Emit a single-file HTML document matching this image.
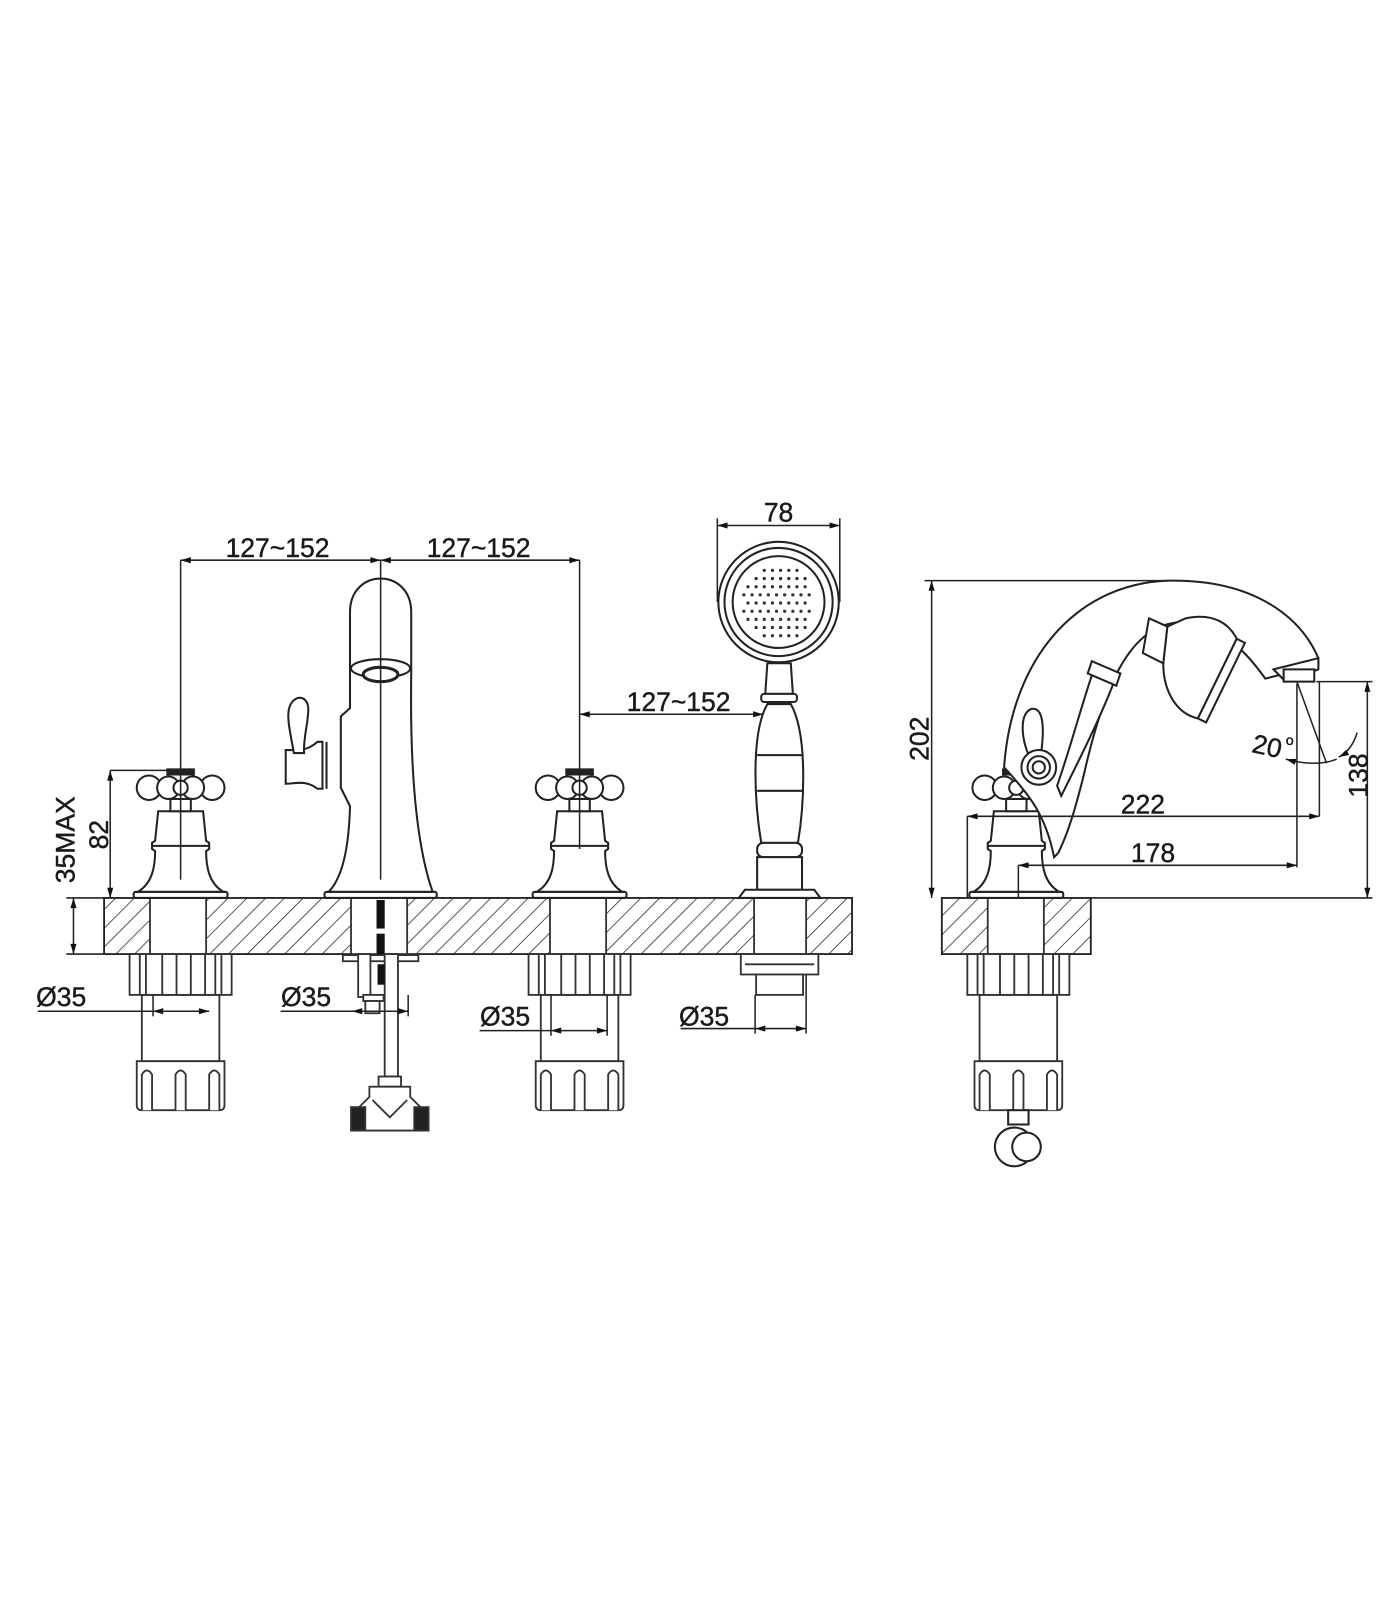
<!DOCTYPE html>
<html><head><meta charset="utf-8"><style>
html,body{margin:0;padding:0;background:#fff;}
svg{display:block}
text{font-family:"Liberation Sans Narrow","Liberation Sans",sans-serif;fill:#1a1a1a;font-size:26px;stroke:#1a1a1a;stroke-width:0.4}
</style></head><body>
<svg width="1400" height="1600" viewBox="0 0 1400 1600" xmlns="http://www.w3.org/2000/svg">
<defs>
<pattern id="h" width="13" height="13" patternUnits="userSpaceOnUse" patternTransform="rotate(45)">
<line x1="0" y1="0" x2="0" y2="13" stroke="#333" stroke-width="1.6"/>
</pattern>
<marker id="a" viewBox="0 0 10 6" refX="10" refY="3" markerWidth="16" markerHeight="6" markerUnits="userSpaceOnUse" orient="auto-start-reverse">
<path d="M0,0 L10,3 L0,6 Z" fill="#111"/>
</marker>
<g id="handle" fill="#fff" stroke="#222" stroke-width="2">
<rect x="-46" y="-6" width="92" height="6" rx="2"/>
<path d="M-42,-6 C-28,-14 -25,-30 -25,-46 L-28,-48 L-28,-54 L-25,-56 L-22,-85 L22,-85 L25,-56 L28,-54 L28,-48 L25,-46 C25,-30 28,-14 42,-6 Z"/>
<line x1="-28" y1="-51" x2="28" y2="-51"/>
<rect x="-10" y="-97" width="20" height="12"/>
<circle cx="-31" cy="-108" r="12"/>
<circle cx="31" cy="-108" r="12"/>
<circle cx="-12" cy="-108" r="11"/>
<circle cx="12" cy="-108" r="11"/>
<circle cx="0" cy="-108" r="7"/>
<rect x="-13" y="-126" width="26" height="5" fill="#222"/>
</g>
<g id="under" fill="#fff" stroke="#333" stroke-width="1.8">
<rect x="-38" y="40" width="76" height="65"/>
<rect x="-50" y="0" width="100" height="40"/>
<line x1="-40" y1="0" x2="-40" y2="40"/><line x1="-34" y1="0" x2="-34" y2="40"/>
<line x1="-18" y1="0" x2="-18" y2="40"/><line x1="-4" y1="0" x2="-4" y2="40"/>
<line x1="10" y1="0" x2="10" y2="40"/><line x1="24" y1="0" x2="24" y2="40"/>
<line x1="34" y1="0" x2="34" y2="40"/><line x1="40" y1="0" x2="40" y2="40"/>
<path d="M-43,105 L43,105 L43,148 Q43,153 38,153 L-38,153 Q-43,153 -43,148 Z"/>
<path d="M-38,153 L-38,118 Q-33,110 -28,118 L-28,153"/>
<path d="M-5,153 L-5,118 Q0,110 5,118 L5,153"/>
<path d="M28,153 L28,118 Q33,110 38,118 L38,153"/>
</g>
</defs>
<g transform="scale(1.0204)">
<rect x="102" y="880" width="733" height="55" fill="url(#h)" stroke="#222" stroke-width="1.8"/>
<g fill="#fff" stroke="#333" stroke-width="1.8">
<rect x="147" y="880" width="55" height="55"/>
<rect x="344" y="880" width="55" height="55"/>
<rect x="539" y="880" width="55" height="55"/>
<rect x="739" y="880" width="51" height="55"/>
</g>
<rect x="923" y="880" width="146" height="55" fill="url(#h)" stroke="#222" stroke-width="1.8"/>
<rect x="968" y="880" width="55" height="55" fill="#fff" stroke="#333" stroke-width="1.8"/>

<use href="#handle" x="177" y="880"/>
<use href="#handle" x="568" y="880"/>
<use href="#handle" x="996" y="880"/>
<use href="#under" x="177" y="935"/>
<use href="#under" x="568" y="935"/>
<use href="#under" x="998" y="935"/>

<g fill="#fff" stroke="#222" stroke-width="2">
<rect x="318" y="874" width="110" height="6" rx="2"/>
<path d="M322,874 C336,860 342,830 343,790 L334,772 L334,702 L343,694 L343,600 C343,556 403,556 403,600 L403,660 C402,730 405,820 424,874 Z"/>
<path d="M316,727 L316,773 L311,773 C300,764 290,768 280,768 L280,735 C290,735 300,737 311,727 Z"/>
<line x1="320" y1="727" x2="320" y2="773"/>
<path d="M288,738 C285,720 280,702 284,692 C289,680 301,682 302,693 C303,706 297,722 298,738 Z"/>
<ellipse cx="373" cy="655" rx="29" ry="9"/>
<ellipse cx="373" cy="661" rx="17" ry="7" stroke-width="3"/>
</g>
<g fill="#fff" stroke="#333" stroke-width="1.8">
<rect x="336" y="936" width="74" height="6"/>
<rect x="351" y="935" width="12" height="42"/>
<rect x="356" y="975" width="20" height="6"/>
<rect x="358" y="981" width="14" height="12"/>
<rect x="377" y="935" width="13" height="120"/>
<rect x="371" y="1055" width="22" height="10"/>
<path d="M362,1065 L402,1065 L402,1075 L412,1085 L412,1108 L352,1108 L352,1085 L362,1075 Z"/>
<path d="M365,1078 L382,1095 L399,1078"/>
<rect x="344" y="1085" width="14" height="23" fill="#222"/>
<rect x="406" y="1085" width="14" height="23" fill="#222"/>
</g>
<rect x="369" y="882" width="8" height="28" fill="#111"/>
<rect x="369" y="915" width="8" height="20" fill="#111"/>
<rect x="370" y="945" width="7" height="20" fill="#111"/>

<g fill="#fff" stroke="#222" stroke-width="2">
<circle cx="763" cy="590" r="59"/>
<circle cx="763" cy="590" r="53"/>
<circle cx="763" cy="590" r="45"/>
<path d="M752,650 L775,650 L777,680 L750,680 Z"/>
<rect x="746" y="680" width="35" height="8" rx="3"/>
<path d="M752,690 C735,720 740,790 746,826 L782,826 C788,790 792,720 775,690 Z"/>
<line x1="742" y1="740" x2="786" y2="740"/>
<line x1="742" y1="775" x2="786" y2="775"/>
<rect x="742" y="826" width="44" height="14" rx="6"/>
<rect x="742" y="840" width="44" height="32"/>
<path d="M724,880 L730,872 L798,872 L804,880 Z"/>
</g>
<g fill="#333">
<circle cx="733" cy="575" r="1.6"/><circle cx="741" cy="575" r="1.6"/><circle cx="749" cy="575" r="1.6"/><circle cx="757" cy="575" r="1.6"/><circle cx="765" cy="575" r="1.6"/><circle cx="773" cy="575" r="1.6"/><circle cx="781" cy="575" r="1.6"/><circle cx="789" cy="575" r="1.6"/>
<circle cx="737" cy="583" r="1.6"/><circle cx="745" cy="583" r="1.6"/><circle cx="753" cy="583" r="1.6"/><circle cx="761" cy="583" r="1.6"/><circle cx="769" cy="583" r="1.6"/><circle cx="777" cy="583" r="1.6"/><circle cx="785" cy="583" r="1.6"/><circle cx="793" cy="583" r="1.6"/><circle cx="729" cy="583" r="1.6"/>
<circle cx="733" cy="591" r="1.6"/><circle cx="741" cy="591" r="1.6"/><circle cx="749" cy="591" r="1.6"/><circle cx="757" cy="591" r="1.6"/><circle cx="765" cy="591" r="1.6"/><circle cx="773" cy="591" r="1.6"/><circle cx="781" cy="591" r="1.6"/><circle cx="789" cy="591" r="1.6"/>
<circle cx="737" cy="599" r="1.6"/><circle cx="745" cy="599" r="1.6"/><circle cx="753" cy="599" r="1.6"/><circle cx="761" cy="599" r="1.6"/><circle cx="769" cy="599" r="1.6"/><circle cx="777" cy="599" r="1.6"/><circle cx="785" cy="599" r="1.6"/><circle cx="793" cy="599" r="1.6"/><circle cx="729" cy="599" r="1.6"/>
<circle cx="733" cy="607" r="1.6"/><circle cx="741" cy="607" r="1.6"/><circle cx="749" cy="607" r="1.6"/><circle cx="757" cy="607" r="1.6"/><circle cx="765" cy="607" r="1.6"/><circle cx="773" cy="607" r="1.6"/><circle cx="781" cy="607" r="1.6"/><circle cx="789" cy="607" r="1.6"/>
<circle cx="741" cy="615" r="1.6"/><circle cx="749" cy="615" r="1.6"/><circle cx="757" cy="615" r="1.6"/><circle cx="765" cy="615" r="1.6"/><circle cx="773" cy="615" r="1.6"/><circle cx="781" cy="615" r="1.6"/><circle cx="789" cy="615" r="1.6"/>
<circle cx="741" cy="567" r="1.6"/><circle cx="749" cy="567" r="1.6"/><circle cx="757" cy="567" r="1.6"/><circle cx="765" cy="567" r="1.6"/><circle cx="773" cy="567" r="1.6"/><circle cx="781" cy="567" r="1.6"/><circle cx="789" cy="567" r="1.6"/>
<circle cx="749" cy="559" r="1.6"/><circle cx="757" cy="559" r="1.6"/><circle cx="765" cy="559" r="1.6"/><circle cx="773" cy="559" r="1.6"/><circle cx="781" cy="559" r="1.6"/>
<circle cx="749" cy="623" r="1.6"/><circle cx="757" cy="623" r="1.6"/><circle cx="765" cy="623" r="1.6"/><circle cx="773" cy="623" r="1.6"/><circle cx="781" cy="623" r="1.6"/>
</g>
<g fill="#fff" stroke="#333" stroke-width="1.8">
<rect x="726" y="935" width="76" height="20"/>
<line x1="730" y1="945" x2="798" y2="945"/>
<rect x="741" y="955" width="46" height="20"/>
</g>

<!-- RIGHT VIEW SPOUT -->
<g fill="#fff" stroke="#222" stroke-width="2">
<path d="M984,752 C992,640 1060,569 1150,569 C1230,569 1275,605 1292,645 L1292,652 L1248,663 L1240,665 C1215,630 1190,610 1156,610 C1105,612 1080,680 1062,760 C1052,800 1045,820 1037,836 L1033,840 C1025,800 1010,780 984,752 Z"/>
<path d="M1248,656 L1292,645 L1292,656 L1260,668 Z"/>
<rect x="1258" y="656" width="30" height="12"/>
<path d="M1144,614 L1162,606 C1190,600 1205,612 1212,626 L1174,704 C1155,700 1140,680 1140,650 Z"/>
<path d="M1212,626 L1220,630 L1182,708 L1174,704 Z"/>
<path d="M1126,606 L1144,614 L1140,650 L1120,640 Z"/>
<path d="M1074,650 L1095,660 C1080,700 1060,740 1040,780 L1036,770 C1050,730 1060,690 1074,650 Z"/>
<path d="M1070,648 L1098,660 L1094,672 L1066,660 Z"/>
<path d="M1008,740 C1000,720 1000,700 1010,695 C1020,692 1025,705 1020,740 Z"/>
<circle cx="1018" cy="752" r="17"/>
<circle cx="1018" cy="752" r="11"/>
<circle cx="1018" cy="752" r="6"/>
</g>
<g fill="#fff" stroke="#222" stroke-width="2">
<rect x="988" y="1088" width="20" height="14"/>
<circle cx="994" cy="1124" r="19"/>
<circle cx="1006" cy="1124" r="14"/>
</g>

<g stroke="#222" stroke-width="1.5" fill="none">
<line x1="177" y1="549" x2="177" y2="862"/>
<line x1="373" y1="549" x2="373" y2="862"/>
<line x1="568" y1="549" x2="568" y2="832"/>
<line x1="177" y1="549" x2="373" y2="549" marker-start="url(#a)" marker-end="url(#a)"/>
<line x1="373" y1="549" x2="568" y2="549" marker-start="url(#a)" marker-end="url(#a)"/>
<line x1="568" y1="700" x2="748" y2="700" marker-start="url(#a)" marker-end="url(#a)"/>
<line x1="703" y1="508" x2="703" y2="590"/>
<line x1="823" y1="508" x2="823" y2="590"/>
<line x1="703" y1="515" x2="823" y2="515" marker-start="url(#a)" marker-end="url(#a)"/>
<line x1="108" y1="755" x2="177" y2="755"/>
<line x1="108" y1="755" x2="108" y2="880" marker-start="url(#a)" marker-end="url(#a)"/>
<line x1="65" y1="880" x2="102" y2="880"/>
<line x1="65" y1="935" x2="102" y2="935"/>
<line x1="72" y1="880" x2="72" y2="935" marker-start="url(#a)" marker-end="url(#a)"/>
<line x1="37" y1="991" x2="150" y2="991"/>
<line x1="150" y1="991" x2="205" y2="991" marker-start="url(#a)" marker-end="url(#a)"/>
<line x1="150" y1="975" x2="150" y2="996"/>
<line x1="275" y1="991" x2="345" y2="991"/>
<line x1="345" y1="991" x2="400" y2="991" marker-start="url(#a)" marker-end="url(#a)"/>
<line x1="400" y1="975" x2="400" y2="996"/>
<line x1="470" y1="1010" x2="540" y2="1010"/>
<line x1="540" y1="1010" x2="595" y2="1010" marker-start="url(#a)" marker-end="url(#a)"/>
<line x1="540" y1="975" x2="540" y2="1015"/><line x1="595" y1="975" x2="595" y2="1015"/>
<line x1="667" y1="1008" x2="740" y2="1008"/>
<line x1="740" y1="1008" x2="790" y2="1008" marker-start="url(#a)" marker-end="url(#a)"/>
<line x1="740" y1="975" x2="740" y2="1013"/><line x1="790" y1="955" x2="790" y2="1013"/>
<line x1="906" y1="569" x2="1150" y2="569"/>
<line x1="913" y1="569" x2="913" y2="880" marker-start="url(#a)" marker-end="url(#a)"/>
<line x1="1069" y1="880" x2="1345" y2="880"/>
<line x1="1290" y1="668" x2="1345" y2="668"/>
<line x1="1340" y1="668" x2="1340" y2="880" marker-start="url(#a)" marker-end="url(#a)"/>
<line x1="1271" y1="670" x2="1271" y2="850"/>
<line x1="1293" y1="668" x2="1293" y2="800"/>
<line x1="948" y1="800" x2="948" y2="880"/>
<line x1="948" y1="800" x2="1293" y2="800" marker-start="url(#a)" marker-end="url(#a)"/>
<line x1="998" y1="848" x2="998" y2="880"/>
<line x1="1040" y1="848" x2="1271" y2="848" marker-end="url(#a)"/>
<line x1="998" y1="848" x2="1040" y2="848" marker-start="url(#a)"/>
<line x1="1271" y1="668" x2="1300" y2="748"/>
<path d="M1260,744 Q1290,752 1310,744" marker-start="url(#a)"/>
<path d="M1312,742 Q1325,735 1330,718" marker-start="url(#a)"/>
</g>

<text x="272" y="546" text-anchor="middle">127~152</text>
<text x="469" y="546" text-anchor="middle">127~152</text>
<text x="665" y="697" text-anchor="middle">127~152</text>
<text x="763" y="511" text-anchor="middle">78</text>
<text x="60" y="986" text-anchor="middle">Ø35</text>
<text x="300" y="986" text-anchor="middle">Ø35</text>
<text x="495" y="1005" text-anchor="middle">Ø35</text>
<text x="690" y="1005" text-anchor="middle">Ø35</text>
<text transform="translate(106,818) rotate(-90)" text-anchor="middle">82</text>
<text transform="translate(73,823) rotate(-90)" text-anchor="middle">35MAX</text>
<text transform="translate(910,724) rotate(-90)" text-anchor="middle">202</text>
<text transform="translate(1340,760) rotate(-90)" text-anchor="middle">138</text>
<text x="1120" y="797" text-anchor="middle">222</text>
<text x="1130" y="845" text-anchor="middle">178</text>
<text transform="translate(1240,740) rotate(12)" text-anchor="middle">20</text>
<text x="1260" y="730" style="font-size:14px">o</text>
</g>
</svg>
</body></html>
